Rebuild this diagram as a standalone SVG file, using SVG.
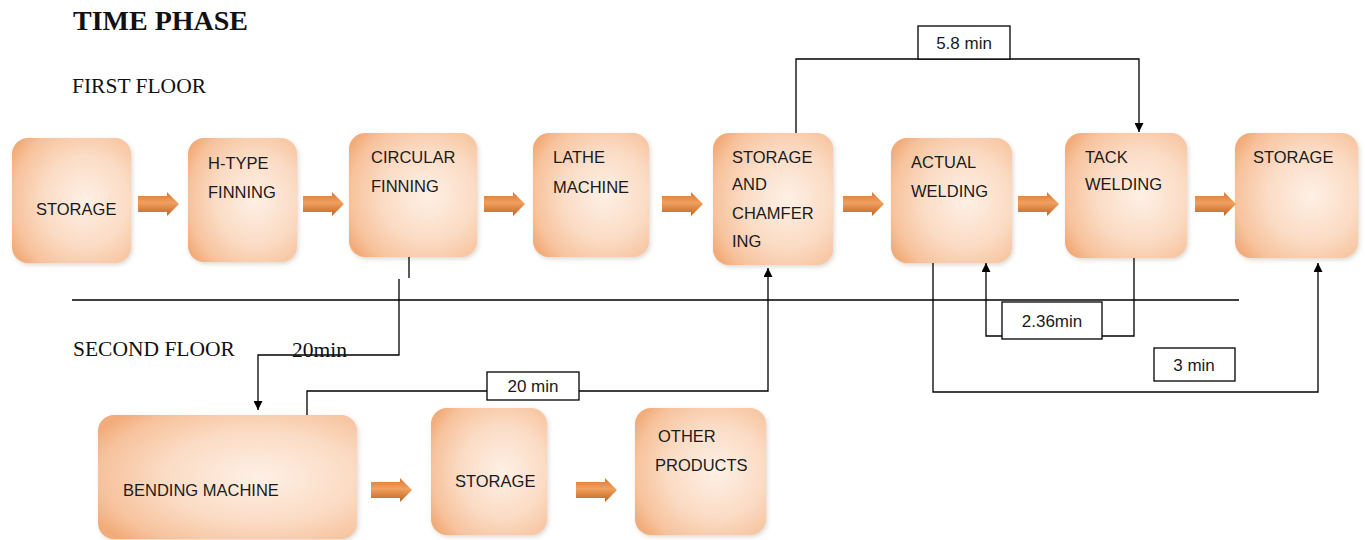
<svg xmlns="http://www.w3.org/2000/svg" width="1365" height="540" viewBox="0 0 1365 540">
<defs>
<radialGradient id="boxg" cx="62%" cy="50%" r="72%">
<stop offset="0" stop-color="#fef0e5"/>
<stop offset="0.5" stop-color="#fbdcc5"/>
<stop offset="0.85" stop-color="#f7c29c"/>
<stop offset="1" stop-color="#f2ac7a"/>
</radialGradient>
<linearGradient id="arrg" x1="0" y1="0" x2="0" y2="1">
<stop offset="0" stop-color="#d9772f"/>
<stop offset="0.45" stop-color="#f0a060"/>
<stop offset="1" stop-color="#c0621d"/>
</linearGradient>
<filter id="sh" x="-10%" y="-10%" width="125%" height="125%">
<feDropShadow dx="1.5" dy="2" stdDeviation="2" flood-color="#b0a090" flood-opacity="0.4"/>
</filter>
<marker id="ah" viewBox="0 0 10 10" refX="10" refY="5" markerWidth="9" markerHeight="9" markerUnits="userSpaceOnUse" orient="auto">
<path d="M0,0 L10,5 L0,10 Z" fill="#000"/>
</marker>
<path id="blk" d="M0,-8 H29 V-12 L41,0 L29,12 V8 H0 Z"/>
</defs>
<style>
.box{fill:url(#boxg);filter:url(#sh)}
.lbl{font-family:"Liberation Sans",Arial,sans-serif;font-size:16.5px;fill:#1a1a1a}
.ser{font-family:"Liberation Serif","Times New Roman",serif;fill:#111}
.ln{fill:none;stroke:#000;stroke-width:1.3}
.tb{fill:#fff;stroke:#000;stroke-width:1.3}
.tl{font-family:"Liberation Sans",Arial,sans-serif;font-size:17px;fill:#1a1a1a;text-anchor:middle}
.ba{fill:url(#arrg)}
</style>
<rect width="1365" height="540" fill="#fff"/>

<text class="ser" x="73" y="30" font-size="28" font-weight="bold">TIME PHASE</text>
<text class="ser" x="72" y="93" font-size="21.5">FIRST FLOOR</text>
<text class="ser" x="73" y="356" font-size="21.5">SECOND FLOOR</text>

<g id="n-storage1"><rect class="box" x="12" y="138" width="119" height="125" rx="16"/><text class="lbl" x="36" y="215">STORAGE</text></g>
<g id="n-htype"><rect class="box" x="188" y="138" width="109" height="124" rx="16"/><text class="lbl" x="208" y="169">H-TYPE</text><text class="lbl" x="208" y="198">FINNING</text></g>
<g id="n-circular"><rect class="box" x="349" y="133" width="128" height="124" rx="16"/><text class="lbl" x="371" y="163">CIRCULAR</text><text class="lbl" x="371" y="192">FINNING</text></g>
<g id="n-lathe"><rect class="box" x="533" y="133" width="116" height="124" rx="16"/><text class="lbl" x="553" y="163">LATHE</text><text class="lbl" x="553" y="193">MACHINE</text></g>
<g id="n-chamfer"><rect class="box" x="713" y="133" width="120" height="132" rx="16"/><text class="lbl" x="732" y="163">STORAGE</text><text class="lbl" x="732" y="190">AND</text><text class="lbl" x="732" y="219">CHAMFER</text><text class="lbl" x="732" y="247">ING</text></g>
<g id="n-actual"><rect class="box" x="891" y="138" width="121" height="125" rx="16"/><text class="lbl" x="911" y="168">ACTUAL</text><text class="lbl" x="911" y="197">WELDING</text></g>
<g id="n-tack"><rect class="box" x="1065" y="133" width="122" height="125" rx="16"/><text class="lbl" x="1085" y="163">TACK</text><text class="lbl" x="1085" y="190">WELDING</text></g>
<g id="n-storage2"><rect class="box" x="1235" y="133" width="123" height="125" rx="16"/><text class="lbl" x="1253" y="163">STORAGE</text></g>
<g id="n-bending"><rect class="box" x="98" y="415" width="259" height="124" rx="16"/><text class="lbl" x="123" y="496">BENDING MACHINE</text></g>
<g id="n-storage3"><rect class="box" x="431" y="408" width="116" height="127" rx="16"/><text class="lbl" x="455" y="487">STORAGE</text></g>
<g id="n-other"><rect class="box" x="635" y="408" width="131" height="127" rx="16"/><text class="lbl" x="658" y="442">OTHER</text><text class="lbl" x="655" y="471">PRODUCTS</text></g>

<g id="connectors">
<use href="#blk" class="ba" x="138" y="204"/>
<use href="#blk" class="ba" x="303" y="204"/>
<use href="#blk" class="ba" x="484" y="204"/>
<use href="#blk" class="ba" x="662" y="204"/>
<use href="#blk" class="ba" x="843" y="204"/>
<use href="#blk" class="ba" x="1018" y="204"/>
<use href="#blk" class="ba" x="1195" y="204"/>
<use href="#blk" class="ba" x="371" y="490"/>
<use href="#blk" class="ba" x="576" y="490"/>

<line class="ln" x1="72" y1="300" x2="1239" y2="300"/>

<line class="ln" x1="409" y1="257" x2="409" y2="278"/>
<path class="ln" d="M399,279 V355 H258 V410" marker-end="url(#ah)"/>
<text class="ser" x="292" y="357" font-size="21.5">20min</text>

<path class="ln" d="M307,415 V391 H768 V268" marker-end="url(#ah)"/>
<rect class="tb" x="487" y="372" width="92" height="28"/>
<text class="tl" x="533" y="392">20 min</text>

<path class="ln" d="M796,133 V59 H1139 V132" marker-end="url(#ah)"/>
<rect class="tb" x="918" y="26" width="92" height="33"/>
<text class="tl" x="964" y="49">5.8 min</text>

<path class="ln" d="M1134,258 V336 H986 V263" marker-end="url(#ah)"/>
<rect class="tb" x="1002" y="302" width="100" height="37"/>
<text class="tl" x="1052" y="327">2.36min</text>

<path class="ln" d="M933,263 V392 H1318 V263" marker-end="url(#ah)"/>
<rect class="tb" x="1154" y="348" width="81" height="33"/>
<text class="tl" x="1194" y="371">3 min</text>
</g>
</svg>
